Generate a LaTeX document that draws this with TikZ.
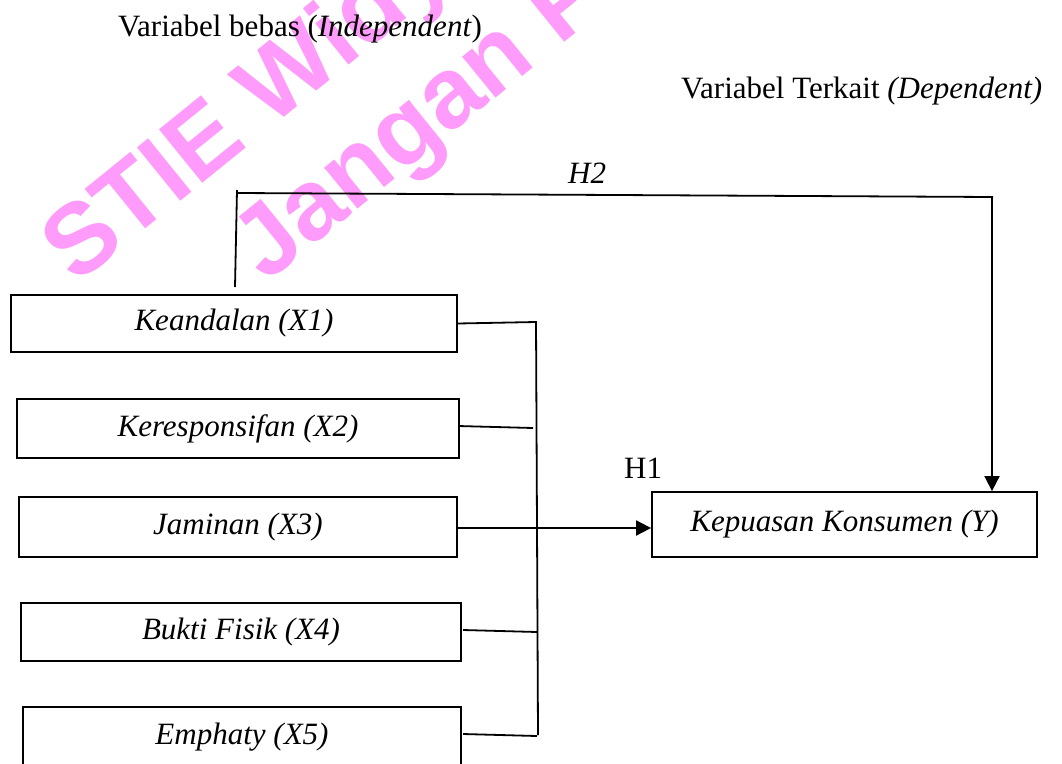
\documentclass[tikz,border=0pt]{standalone}
\usepackage{fontspec}
\setmainfont{Liberation Serif}
\newfontfamily\wmfont{Liberation Sans}
\usetikzlibrary{arrows.meta,calc}
\definecolor{wmpink}{RGB}{255,155,250}
\begin{document}
\begin{tikzpicture}[x=1pt,y=-1pt,
  every node/.style={font=\fontsize{31}{37}\selectfont, inner sep=0pt},
  varbox/.style={draw, line width=1.8pt, font=\fontsize{31}{37}\selectfont\itshape},
  conn/.style={line width=1.8pt},
  arr/.style={conn, -{Triangle[length=15pt,width=15pt]}},
  wm/.style={text=wmpink, font=\fontsize{100}{120}\selectfont\wmfont\bfseries, rotate=39, anchor=base west}]
\useasboundingbox (0,0) rectangle (1062,763);
% headings
\node[anchor=base west] (indep) at (118,36) {Variabel bebas (\textit{Independent})};
\node[anchor=base west] (dep) at (681,98) {Variabel Terkait \textit{(Dependent)}};
\node[anchor=base west, font=\fontsize{31}{37}\selectfont\itshape] (h2) at (568,183) {H2};
\node[anchor=base west] (h1) at (624,478) {H1};
% boxes
\node[varbox, minimum width=446pt, minimum height=57pt] (x1) at (234,323.5) {Keandalan (X1)};
\node[varbox, minimum width=442pt, minimum height=59pt] (x2) at (238,428.5) {Keresponsifan (X2)};
\node[varbox, minimum width=438pt, minimum height=60pt] (x3) at (238,527) {Jaminan (X3)};
\node[varbox, minimum width=440pt, minimum height=58pt] (x4) at (241,632) {Bukti Fisik (X4)};
\node[varbox, minimum width=438pt, minimum height=60pt] (x5) at (242,737) {Emphaty (X5)};
\node[varbox, minimum width=385pt, minimum height=65pt] (y) at (844.5,524.5) {Kepuasan Konsumen (Y)};
% H2 path
\coordinate (h2a) at (235,287);
\coordinate (h2b) at (237,190);
\coordinate (h2c) at (237,193);
\coordinate (h2d) at (993,197);
\coordinate (h2e) at (992,197);
\draw[conn] (h2a) -- (h2b);
\draw[conn] (h2c) -- (h2d);
\draw[arr] (h2e) -- (h2e |- y.north);
% bus
\coordinate (bustop) at (536,321);
\coordinate (busbot) at (538,735);
\draw[conn] (bustop) -- (busbot);
\draw[conn] (x1.east) -- (536,322);
\draw[conn] (458,426) -- (533,428);
\draw[conn] (463,630) -- (537,632);
\draw[conn] (463,734) -- (537,736);
\draw[arr] (x3.east |- 0,528) -- (y.west |- 0,528);
% watermark
\begin{scope}[blend mode=multiply]
\node[wm] (wm1) at (76,286) {STIE Widya Wiwaha};
\node[wm] (wm2) at (266,284) {Jangan Plagiat};
\end{scope}
\end{tikzpicture}
\end{document}
